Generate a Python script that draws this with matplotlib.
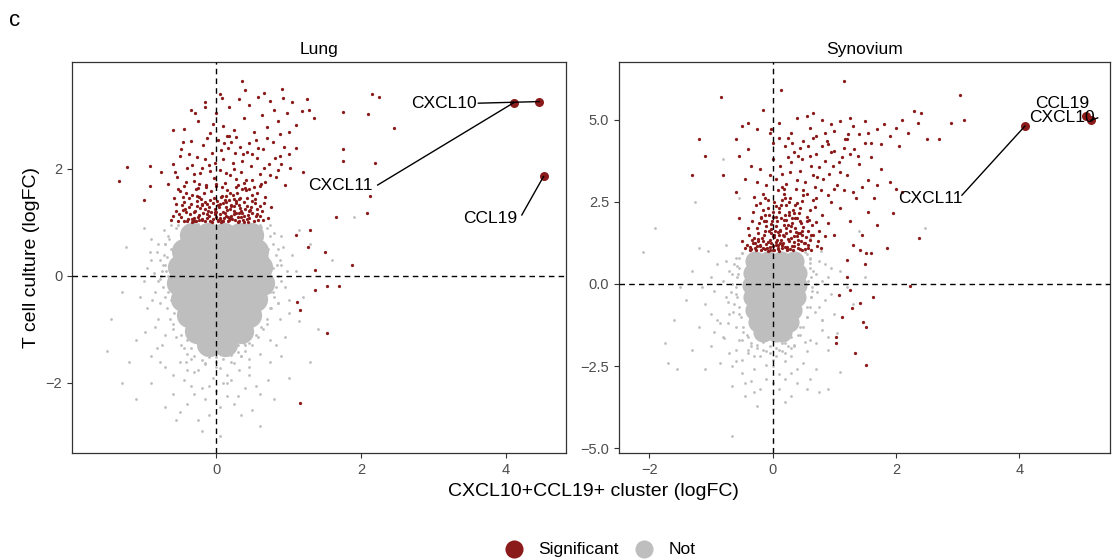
import matplotlib
matplotlib.use("Agg")
import matplotlib.pyplot as plt

plt.rcParams['font.family'] = ['Liberation Sans', 'DejaVu Sans']

RED = '#8B1A1A'
GREY = '#BEBEBE'

# ---------------- Lung ----------------
# centres of the solid part of the grey cloud
lung_core_x = [-0.33, -0.11, 0.11, 0.33, 0.48,
               -0.45, -0.23, -0.01, 0.21, 0.43, 0.55,
               -0.5, -0.28, -0.06, 0.16, 0.38, 0.6,
               -0.51, -0.29, -0.07, 0.15, 0.37, 0.59, 0.63,
               -0.46, -0.24, -0.02, 0.2, 0.42, 0.54,
               -0.38, -0.16, 0.06, 0.28, 0.45,
               -0.26, -0.04, 0.18, 0.34,
               -0.1, 0.12]
lung_core_y = [0.77] * 5 + [0.47] * 6 + [0.17] * 6 + [-0.13] * 7 + [-0.43] * 6 + \
              [-0.73] * 5 + [-1.03] * 4 + [-1.28] * 2

lung_grey_x = [-0.8, -0.9, -0.75, -1.0, -0.85, -0.95, -0.8, -1.1, -0.9, -1.3, -1.3, -1.1, -0.7, -0.75,
               -1.25, -0.78, -0.82, -1.45, -1.0, -0.72, -0.7, -0.9, -1.2, -1.5,
               -0.5, -0.3, 0.0, 0.2, 0.35, -0.2, 0.1, 0.4, -0.6, -0.4, 0.25, 0.5, -0.1, -0.2, 0.05, 0.6,
               -0.55, 0.15, -0.35, 0.45, -0.05, 0.3, -0.45, 0.55, 0.7, 0.6, 0.8, 1.0, 0.9,
               0.8, 0.85, 0.9, 0.95, 0.85, 1.0, 1.1, 0.75, 1.2, 1.3, 1.4, 1.6, 1.3, 0.75, 0.7, 0.78,
               1.15, 1.9, -0.65, -0.68, -0.62, 0.72, 0.74, 0.62, -0.6, -0.66, 0.35, -0.35, 0.0, 0.2,
               -0.15, 0.45, -0.48, 0.62, -0.7, 0.68, 0.5, -0.52, 0.1, -0.25, 0.3, -0.1,
               -0.64, 0.7, -0.7, 0.66, 0.58, -0.58, 0.4, -0.4, 0.52, -0.3,
               -0.9, -0.95, -0.88, -0.85, -1.05, -0.92, -0.82, -0.98, -0.86, -0.78, -0.6, -0.45, -0.3,
               -0.15, 0.0, 0.15, 0.3, 0.45, 0.6, 0.75, 0.95, 1.0, 0.92, 0.88, 1.05, 0.98, 0.9, 0.82,
               -0.5, -0.25, 0.05, 0.35, 0.55, -0.4, 0.2, -0.1, 0.45, -0.7, 0.72, 1.15]
lung_grey_y = [0.6, 0.3, 0.1, -0.1, -0.3, -0.6, -0.8, -1.2, -1.5, -0.3, -2.0, -2.3, -1.7, -1.3,
               0.55, -0.05, 0.45, -0.8, 0.9, 0.85, -1.1, -2.0, -1.6, -1.4,
               -1.6, -1.8, -1.7, -1.6, -1.5, -2.1, -2.0, -2.1, -2.2, -2.4, -2.4, -2.5, -2.6, -2.9, -3.0, -2.8,
               -2.7, -2.25, -2.05, -1.85, -1.45, -1.3, -1.35, -1.1, -0.9, -2.2, -2.3, -1.9, -1.5,
               0.8, 0.5, 0.2, -0.2, -0.5, -0.7, 0.1, -1.2, -0.4, 0.6, -1.0, 0.3, -1.6, 0.95, 0.35, -0.3,
               0.85, 1.1, 0.7, 0.35, -0.45, 0.15, -0.6, 0.92, -0.9, 0.0, -1.5, -1.55, -1.52, -1.42,
               -1.62, -1.25, -1.1, -0.95, 0.6, 0.45, 0.95, 0.95, 0.96, 0.97, 0.96, 0.97,
               -0.25, -0.3, 0.2, -0.05, -0.75, -0.7, -1.3, -1.2, 0.7, 0.92,
               0.7, 0.15, -0.45, -0.95, -0.4, 0.45, -1.35, -1.05, 0.05, -1.6, -1.85, -1.95, -2.2,
               -2.3, -2.15, -2.0, -2.25, -1.7, -1.45, -1.6, -1.15, -0.45, 0.55, -0.8, 0.4, 0.1, 0.75, -1.3,
               -2.55, -2.7, -2.45, -2.6, -2.05, -1.75, -1.95, -2.05, -1.55, -2.45, -1.95, -0.85]

# grey points hugging the edge of the solid part
lung_edge_x = [-0.62, -0.55, 0.6, 0.7, 0.75, -0.66, -0.7, 0.78,
               -0.72, -0.74, -0.76, -0.73, -0.71, -0.68, -0.64, -0.6, -0.55, -0.48, -0.78, -0.8, -0.77,
               -0.69, -0.66, -0.62,
               0.82, 0.84, 0.86, 0.83, 0.8, 0.76, 0.7, 0.64, 0.58, 0.5, 0.88, 0.9, 0.85, 0.79, 0.75, 0.72,
               -0.4, -0.3, -0.2, -0.1, 0.0, 0.1, 0.2, 0.3, 0.4, -0.35, 0.38, -0.15, 0.05, 0.25, -0.25,
               0.15, -0.05, 0.32, -0.42]
lung_edge_y = [0.95, 0.9, 0.95, 0.9, 0.75, 0.75, 0.6, 0.6,
               0.4, 0.2, 0.0, -0.2, -0.4, -0.6, -0.8, -1.0, -1.15, -1.3, 0.3, -0.1, -0.5,
               0.1, -0.3, 0.5,
               0.4, 0.2, 0.0, -0.2, -0.4, -0.6, -0.8, -1.0, -1.15, -1.3, 0.3, -0.1, -0.5, 0.15, -0.3, 0.5,
               -1.45, -1.5, -1.58, -1.52, -1.6, -1.55, -1.48, -1.42, -1.4, -1.35, -1.25, -1.65, -1.72,
               -1.62, -1.75, -1.85, -1.9, -1.75, -1.6]

lung_sig_x = [-0.62, -0.55, -0.48, -0.44, -0.40, -0.36, -0.33, -0.30, -0.27, -0.24, -0.21, -0.18, -0.15,
              -0.12, -0.10, -0.07, -0.05, -0.02, 0.01, 0.03, 0.06, 0.08, 0.11, 0.13, 0.16, 0.18, 0.21,
              0.24, 0.26, 0.29, 0.31, 0.34, 0.37, 0.40, 0.43, 0.46, 0.50, 0.54, 0.58, 0.63, 0.68, -0.58,
              -0.50, -0.28, -0.16, 0.00, 0.10, 0.20, 0.30, 0.44, -0.38, -0.08, 0.15, 0.36, 0.56, -0.20,
              0.05, 0.25, -0.45, 0.48,
              -0.6, -0.52, -0.47, -0.42, -0.37, -0.34, -0.29, -0.26, -0.23, -0.19, -0.17, -0.13, -0.11,
              -0.09, -0.04, -0.01, 0.02, 0.04, 0.07, 0.09, 0.12, 0.14, 0.17, 0.19, 0.22, 0.23, 0.27, 0.28,
              0.32, 0.33, 0.35, 0.38, 0.39, 0.42, 0.47, 0.49, 0.52, 0.57, 0.61, 0.66, 0.72, 0.76, -0.56,
              -0.41, -0.31, -0.14, 0.0, 0.13, 0.27, 0.41, 0.6, -0.24, 0.07, 0.32, -0.46, 0.19, 0.45,
              -0.02, 0.25, 0.53,
              -0.51, -0.43, -0.39, -0.35, -0.31, -0.28, -0.25, -0.22, -0.19, -0.16, -0.13, -0.1, -0.06,
              -0.03, 0.0, 0.02, 0.05, 0.08, 0.1, 0.13, 0.15, 0.18, 0.21, 0.24, 0.27, 0.3, 0.33, 0.36,
              0.39, 0.42, 0.45, 0.5, 0.55, 0.6, 0.65, -0.46, -0.33, -0.2, -0.07, 0.06, 0.19, 0.31, 0.44,
              0.57, -0.26, 0.12,
              -0.66, -0.60, -0.54, -0.48, -0.44, -0.40, -0.35, -0.31, -0.27, -0.22, -0.18, -0.14, -0.10,
              -0.06, -0.03, 0.02, 0.05, 0.09, 0.12, 0.16, 0.19, 0.23, 0.27, 0.30, 0.34, 0.37, 0.41, 0.45,
              0.48, 0.52, 0.56, 0.60, 0.64, 0.68, 0.73, 0.78, 0.83, 0.88, 0.95, 1.02, 1.10, -0.52, -0.25,
              0.08, 0.40, 0.70, -0.12, 0.24, -0.38, 0.55, 0.90, 1.20, -0.02, 0.18, 0.33,
              -0.57, -0.5, -0.42, -0.33, -0.24, -0.16, -0.08, 0.0, 0.07, 0.14, 0.21, 0.28, 0.36, 0.43,
              0.5, 0.58, 0.66, 0.74, 0.81, 0.93, -0.46, -0.2, 0.11, 0.39, 0.62, 0.85, 1.0, -0.3, 0.26, 0.5,
              -0.45, -0.35, -0.25, -0.15, -0.08, 0.00, 0.05, 0.10, 0.18, 0.25, 0.32, 0.38, 0.45, 0.52,
              0.58, 0.63, 0.70, 0.75, 0.80, 0.85, 0.92, 0.98, 1.05, 1.10, 1.18, 1.25, 1.35, 0.40, 0.15,
              -0.05, 0.66, 0.88, 1.00, 1.28,
              1.30, 1.50, 1.37, 1.37, 1.16, 1.53, 1.16, 1.70, 1.53, 1.88, 1.66, 2.08, 2.13, 2.20, 1.75,
              1.75, 2.45, 2.15, 2.25, 1.75, 2.10, 0.36, 0.91, 1.27, 1.10, 1.12, -1.23, -1.34, -0.92,
              -0.92, -1.00, -0.76, -0.59, -0.29, -0.16, 0.08]
lung_sig_y = [1.05, 1.22, 1.10, 1.38, 1.02, 1.16, 1.52, 1.08, 1.30, 1.04, 1.44, 1.18, 1.02,
              1.34, 1.12, 1.58, 1.06, 1.25, 1.40, 1.03, 1.15, 1.50, 1.08, 1.28, 1.02, 1.42, 1.13,
              1.22, 1.05, 1.55, 1.32, 1.10, 1.04, 1.26, 1.46, 1.08, 1.18, 1.36, 1.04, 1.22, 1.48, 1.45,
              1.58, 1.62, 1.26, 1.10, 1.20, 1.30, 1.00, 1.14, 1.28, 1.42, 1.60, 1.62, 1.56, 1.06,
              1.34, 1.44, 1.02, 1.28,
              1.12, 1.03, 1.32, 1.19, 1.45, 1.07, 1.22, 1.40, 1.14, 1.33, 1.55, 1.08, 1.21,
              1.03, 1.36, 1.15, 1.05, 1.29, 1.47, 1.02, 1.17, 1.38, 1.10, 1.25, 1.06, 1.52, 1.18, 1.36,
              1.02, 1.46, 1.21, 1.13, 1.39, 1.06, 1.23, 1.52, 1.03, 1.26, 1.12, 1.36, 1.08, 1.28, 1.35,
              1.55, 1.02, 1.66, 1.68, 1.50, 1.67, 1.60, 1.68, 1.48, 1.01, 1.17, 1.24, 1.09, 1.63,
              1.19, 1.31, 1.44,
              1.15, 1.25, 1.06, 1.34, 1.19, 1.02, 1.11, 1.27, 1.04, 1.38, 1.16, 1.29, 1.01,
              1.45, 1.2, 1.32, 1.09, 1.02, 1.37, 1.13, 1.24, 1.05, 1.33, 1.15, 1.41, 1.1, 1.27, 1.18,
              1.01, 1.3, 1.21, 1.4, 1.12, 1.3, 1.05, 1.48, 1.01, 1.35, 1.2, 1.06, 1.55, 1.44, 1.01,
              1.15, 1.5, 1.42,
              1.72, 2.10, 1.85, 2.38, 1.68, 2.02, 2.52, 1.78, 2.22, 1.92, 2.45, 1.70, 2.08,
              2.30, 1.84, 2.55, 1.98, 2.18, 1.74, 2.40, 1.88, 2.12, 2.60, 1.70, 1.95, 2.28, 1.80, 2.48,
              2.05, 1.66, 2.20, 1.90, 2.38, 1.76, 2.10, 2.50, 1.85, 2.25, 1.70, 2.02, 2.40, 1.62, 1.64,
              1.66, 1.64, 2.58, 2.58, 2.00, 2.28, 2.55, 2.10, 1.95, 2.12, 2.62, 2.42,
              1.95, 2.25, 1.76, 2.08, 1.72, 2.18, 1.96, 1.72, 2.35, 1.92, 2.5, 1.82, 2.15, 2.32,
              1.8, 2.4, 2.02, 1.88, 2.2, 2.42, 2.5, 2.02, 2.48, 1.74, 1.72, 1.98, 2.28, 1.9, 2.3, 2.28,
              2.75, 3.10, 2.90, 3.25, 2.68, 3.05, 3.40, 2.80, 3.15, 2.72, 3.30, 2.95, 3.20, 2.70,
              3.35, 3.00, 2.78, 3.28, 3.10, 2.90, 3.32, 3.05, 3.25, 2.82, 3.08, 3.30, 2.95, 3.48, 2.62,
              2.85, 3.42, 2.66, 2.70, 3.10,
              0.86, 0.45, 0.11, -0.26, -0.64, -1.07, -2.37, -0.19, -0.19, 0.20, 1.10, 1.17, 1.50, 2.11, 2.14,
              2.37, 2.77, 3.40, 3.35, 3.07, 3.03, 3.65, 3.50, 0.55, 0.77, -0.49, 2.04, 1.78, 2.06,
              1.68, 1.42, 1.94, 2.73, 3.05, 3.16, 3.33]

lung_genes = ['CXCL10', 'CXCL11', 'CCL19']
lung_gene_x = [4.46, 4.11, 4.52]
lung_gene_y = [3.26, 3.24, 1.86]
lung_label_x = [3.14, 1.72, 3.78]
lung_label_y = [3.23, 1.69, 1.07]
lung_leader_x = [3.62, 2.23, 4.22]
lung_leader_y = [3.23, 1.70, 1.14]

# ---------------- Synovium ----------------
syn_core_x = [-0.28, -0.07, 0.14, 0.35,
              -0.32, -0.11, 0.1, 0.31, 0.39,
              -0.33, -0.12, 0.09, 0.3, 0.4,
              -0.32, -0.11, 0.1, 0.31, 0.38,
              -0.28, -0.07, 0.14, 0.32,
              -0.24, -0.03, 0.18, 0.26,
              -0.15, 0.05, 0.15]
syn_core_y = [0.7] * 4 + [0.33] * 5 + [-0.04] * 5 + [-0.41] * 5 + [-0.78] * 4 + \
             [-1.15] * 4 + [-1.45] * 3

syn_grey_x = [-0.6, -0.7, -0.65, -0.75, -0.7, -0.6, -0.9, -1.0, -0.95, -1.1, -0.9, -0.8, -1.2, -1.3,
              -1.4, -1.2, -1.0, -1.5, -1.6, -1.7, -1.9, -2.1, -1.75, -1.3, -1.1, -0.85, -0.6, -0.55,
              -1.25, -0.75, -1.05, -0.72, -0.62, -0.58, -1.55,
              -0.4, -0.2, 0.0, 0.2, 0.35, -0.3, -0.1, 0.1, 0.3, 0.5, -0.45, 0.0, 0.2, 0.55, 0.75,
              -0.3, -0.65, 0.0, 0.4, -0.66, 0.9, 0.7, 0.9, -0.5, 0.15, -0.15, 0.3, 0.45, 0.55, -0.48,
              0.6, 0.8,
              0.6, 0.65, 0.7, 0.62, 0.75, 0.85, 0.9, 0.95, 1.0, 1.1, 1.2, 1.3, 0.8, 1.05, 1.1, 1.5, 0.78,
              -0.55, -0.8, 0.6, 1.4, 2.47, -0.56, 0.58, -0.54, 0.56, -0.5, 0.52, -0.35, 0.3, -0.1, 0.1,
              -0.25, 0.2, -0.4, 0.42, 0.05, -0.05, -0.6, 0.64, -0.62, 0.6,
              -0.75, -0.8, -0.72, -0.85, -0.78, -0.7, -0.65, -0.5, -0.35, -0.2, 0.0, 0.2, 0.4, 0.55,
              0.7, 0.8, 0.85, 0.8, 0.75, 0.9, -1.0, -1.15, -0.95, -0.45, 0.3, -0.25, 0.1, 0.6, -0.6, 0.95]
syn_grey_y = [0.8, 0.4, 0.0, -0.4, -0.9, -1.3, 0.6, 0.2, -0.2, -0.6, -1.1, -1.6, 1.1, 0.4,
              -0.5, -1.3, -1.9, -0.1, -1.1, -2.4, 1.7, 0.97, -1.8, -2.0, -2.6, -2.4, -2.0, -1.7,
              2.5, 1.2, 1.0, -1.2, -0.6, 0.55, -2.6,
              -2.0, -2.2, -2.5, -2.1, -1.9, -2.6, -2.9, -3.2, -2.7, -2.4, -3.0, -3.5, -3.6, -3.2, -3.3,
              -3.3, -3.1, -3.8, -3.0, -4.62, -3.2, -2.6, -2.0, -2.3, -1.8, -1.75, -1.6, -1.3, -1.0, -1.45,
              -1.7, -1.4,
              0.8, 0.4, 0.0, -0.4, -0.7, 0.6, 0.2, -0.3, -0.9, 0.4, -0.1, -0.6, -1.1, -1.5, -2.67, 0.2, 1.0,
              2.6, 3.8, 1.4, 1.6, 1.7, 0.3, 0.1, -0.9, -0.7, 0.95, 0.97, -1.9, -1.95, -2.05, -2.0,
              -1.85, -1.8, -1.6, -1.55, -2.2, -1.9, -0.3, -0.2, 0.6, 0.65,
              0.7, 0.1, -0.55, -1.2, -1.65, -2.1, -2.5, -2.7, -2.95, -3.2, -3.0, -2.9, -2.6, -2.05,
              -1.8, -1.1, -0.5, 0.1, 0.7, -1.6, -0.9, -0.1, -1.45, -3.4, -3.4, -3.7, -2.75, -2.9, -2.35, 0.5]

syn_edge_x = [-0.5, 0.55, -0.55, 0.6,
              -0.55, -0.58, -0.6, -0.58, -0.55, -0.52, -0.48, -0.42, -0.66, -0.68, -0.64, -0.5,
              0.6, 0.62, 0.64, 0.62, 0.6, 0.56, 0.5, 0.44, 0.7, 0.72, 0.68, 0.52,
              -0.35, -0.25, -0.15, -0.05, 0.05, 0.15, 0.25, 0.35, -0.3, 0.0, 0.2, -0.1, 0.3, -0.4]
syn_edge_y = [0.95, 0.9, 0.8, 0.75,
              0.5, 0.2, -0.1, -0.4, -0.7, -1.0, -1.3, -1.55, 0.3, -0.25, -0.85, -1.7,
              0.5, 0.2, -0.1, -0.4, -0.7, -1.0, -1.3, -1.55, 0.3, -0.25, -0.85, -1.75,
              -1.8, -1.95, -2.0, -2.1, -1.95, -2.05, -1.9, -1.85, -2.2, -2.3, -2.35, -2.45, -2.2, -2.1]

syn_sig_x = [-0.35, -0.30, -0.26, -0.22, -0.18, -0.15, -0.12, -0.09, -0.06, -0.03, 0.00, 0.03, 0.05,
             0.08, 0.10, 0.13, 0.16, 0.18, 0.21, 0.24, 0.27, 0.30, 0.33, 0.36, 0.39, 0.42, 0.45, 0.48,
             0.52, 0.56, 0.60, 0.64, 0.68, 0.72, 0.76, 0.80, -0.40, -0.32, -0.20, -0.10, 0.02, 0.12,
             0.22, 0.32, 0.44, 0.58, -0.28, -0.05, 0.15, 0.25, 0.35, 0.47, -0.45, -0.38, 0.06, 0.28,
             0.50, 0.66, -0.15, 0.18, -0.02, 0.10, 0.40, 0.62, 0.85, 0.90, -0.50, -0.55,
             -0.42, -0.37, -0.33, -0.29, -0.24, -0.21, -0.17, -0.13, -0.11, -0.07, -0.04, -0.01, 0.01,
             0.04, 0.07, 0.09, 0.11, 0.14, 0.17, 0.2, 0.22, 0.25, 0.29, 0.31, 0.34, 0.38, 0.41, 0.43,
             0.46, 0.5, 0.54, 0.57, 0.61, 0.66, 0.7, 0.74, 0.78, -0.27, -0.19, -0.08, 0.0, 0.06, 0.16,
             0.26, 0.36, 0.48, 0.59, -0.34, -0.14, 0.03, 0.19, 0.33, 0.53, 0.71, -0.23, 0.12, 0.39,
             -0.06, 0.23, 0.45,
             -0.36, -0.31, -0.27, -0.23, -0.2, -0.16, -0.14, -0.1, -0.08, -0.05, -0.02, 0.0, 0.02, 0.05,
             0.07, 0.09, 0.12, 0.15, 0.17, 0.19, 0.23, 0.26, 0.28, 0.32, 0.35, 0.37, 0.41, 0.44, 0.47,
             0.51, 0.55, 0.58, 0.63, -0.25, -0.12, 0.0, 0.11, 0.22, 0.34, 0.46, -0.18, -0.03, 0.08,
             0.2, 0.3, 0.42, -0.08, 0.14, 0.27, 0.05,
             -0.60, -0.45, -0.30, -0.20, -0.10, 0.00, 0.08, 0.15, 0.22, 0.30, 0.38, 0.45, 0.52, 0.60,
             0.68, 0.75, 0.82, 0.90, 0.98, 1.05, 1.12, 1.20, 1.30, 1.40, 1.55, 1.65, 1.75, 0.35, -0.05,
             0.55, 0.70, 0.92, 1.00, -0.35, -0.80, 1.25, 1.45, 0.20, -0.15, 0.48, 0.85, 1.60, 0.12,
             -0.55, 0.65,
             -0.25, -0.12, 0.05, 0.18, 0.28, 0.4, 0.5, 0.62, 0.72, 0.8, 0.95, 1.08, 1.18, 1.32, 1.5,
             0.1, 0.32, 0.58, 0.88, 1.22, -0.4, -0.02, 0.42, 0.78, 1.1, 1.38, 0.25, 0.66, 1.0, 0.15,
             -0.60, -0.50, -0.40, -0.25, -0.15, 0.00, 0.10, 0.20, 0.30, 0.40, 0.50, 0.60, 0.70, 0.80,
             0.90, 1.00, 1.10, 1.20, 1.30, 1.40, 1.50, 1.60, 1.70, 1.80, 1.90, 2.00, 2.10, 2.20, 2.35,
             2.50, 0.65, 0.95, 1.25, 1.55, 0.25, -0.05, 0.45, 0.85, 1.15, 1.75, 2.05, 2.30, 0.55,
             -1.20, -1.10, -1.30, -0.84, 1.15, 0.13, 3.04, 2.90, 3.10, 2.40, 2.70, 1.70, 2.00, 1.96,
             2.38, 1.20, 1.20, 1.42, 1.52, 1.60, 1.50, 2.23, 1.07, 1.28, 1.41, 1.46, 1.52, 1.02, 1.02,
             1.33, 1.52, 1.13, 1.25, 1.62, 1.35, 1.55, 1.70, 1.25, 1.45, 1.85, 1.10, 1.00, 1.30, 1.90,
             2.10, 0.95, 1.15]
syn_sig_y = [1.05, 1.40, 1.15, 1.85, 1.02, 1.30, 1.60, 1.10, 2.10, 1.25, 1.45, 1.04, 1.75,
             1.18, 2.30, 1.35, 1.08, 1.95, 1.55, 1.12, 2.20, 1.40, 1.03, 1.70, 2.45, 1.22, 1.90, 1.50,
             1.06, 2.05, 1.35, 1.80, 2.35, 1.15, 1.60, 2.10, 1.70, 2.20, 2.45, 1.90, 2.50, 1.65,
             2.40, 2.00, 2.30, 1.60, 1.25, 1.02, 1.20, 1.80, 1.15, 1.02, 1.10, 1.50, 2.05, 2.60,
             2.70, 2.55, 2.25, 2.75, 1.55, 1.00, 1.45, 1.02, 1.45, 1.85, 1.30, 2.00,
             1.2, 1.02, 1.33, 1.08, 1.55, 1.18, 1.4, 1.05, 1.75, 1.28, 1.12, 1.9, 1.02,
             1.6, 1.35, 1.08, 1.5, 2.0, 1.25, 1.12, 1.7, 1.38, 1.05, 1.85, 1.28, 1.58, 1.1, 2.15,
             1.3, 1.72, 1.42, 1.18, 2.25, 1.5, 1.88, 1.32, 1.1, 2.4, 2.05, 2.55, 2.2, 2.38, 2.55,
             2.1, 2.4, 2.52, 1.95, 1.9, 1.9, 1.5, 1.45, 2.25, 1.25, 2.6, 1.3, 1.25, 2.0,
             1.6, 1.05, 1.55,
             1.12, 1.25, 1.04, 1.38, 1.15, 1.08, 1.5, 1.22, 1.01, 1.35, 1.68, 1.15, 1.42, 1.28,
             1.9, 1.05, 1.62, 1.18, 1.48, 1.8, 1.02, 1.3, 1.6, 1.15, 1.45, 2.0, 1.35, 1.05, 1.62,
             1.25, 1.9, 1.08, 1.48, 1.7, 2.1, 2.05, 2.2, 1.95, 2.15, 1.85, 2.0, 1.82, 1.58,
             2.1, 1.75, 1.55, 2.3, 2.4, 2.5, 1.2,
             2.80, 3.20, 2.65, 3.50, 3.00, 3.80, 2.85, 3.35, 3.05, 3.70, 2.90, 3.45, 3.10, 3.90,
             2.95, 3.55, 3.20, 2.70, 3.60, 3.00, 3.85, 3.30, 2.80, 3.65, 3.15, 2.60, 3.50, 4.00, 3.30,
             2.75, 3.95, 3.35, 2.90, 3.60, 3.30, 3.95, 2.95, 2.60, 2.75, 3.80, 3.75, 3.85, 3.60,
             3.90, 3.30,
             3.1, 2.6, 3.2, 2.9, 3.4, 3.15, 2.85, 3.6, 3.25, 4.2, 4.0, 3.7, 4.4, 4.1, 4.3,
             4.45, 4.3, 4.2, 4.35, 4.55, 4.9, 4.7, 3.9, 2.85, 3.4, 3.9, 3.85, 4.45, 4.05, 2.95,
             4.40, 4.80, 4.10, 4.70, 5.30, 4.30, 4.90, 4.20, 4.60, 5.05, 4.35, 4.75, 4.50, 5.00,
             4.25, 4.65, 4.95, 4.40, 4.80, 4.55, 4.95, 4.30, 4.70, 4.85, 4.50, 4.75, 5.00, 4.60, 4.90,
             4.40, 5.20, 4.85, 5.05, 4.60, 4.45, 4.60, 4.15, 4.60, 4.15, 4.25, 4.20, 5.25, 5.10,
             4.40, 3.90, 3.30, 5.70, 6.17, 5.90, 5.74, 4.90, 5.00, 5.20, 4.40, 3.00, 2.90, 2.16,
             1.40, 0.73, 0.21, 1.03, 0.94, 0.94, 0.60, -0.06, -0.33, -0.73, -0.58, -1.15, -1.30, -1.60, -1.80,
             -2.10, -2.46, -1.00, -0.18, -0.40, 2.60, 2.20, 1.80, 1.90, 1.50, 1.10, 2.30, 1.50, 1.20, 3.10,
             2.80, 2.50, 2.85]

syn_genes = ['CCL19', 'CXCL10', 'CXCL11']
syn_gene_x = [5.08, 5.16, 4.09]
syn_gene_y = [5.11, 4.98, 4.80]
syn_label_x = [4.69, 4.69, 2.56]
syn_label_y = [5.50, 5.05, 2.61]
syn_leader_x = [None, 5.27, 3.07]
syn_leader_y = [None, 5.05, 2.70]


def draw_panel(ax, core_x, core_y, core_s, grey_x, grey_y, sig_x, sig_y,
               genes, gx, gy, lx, ly, leader_x, leader_y,
               xlim, ylim, xticks, yticks, yfmt, title):
    ax.scatter(core_x, core_y, s=core_s, color=GREY, linewidths=0, zorder=1)
    ax.scatter(grey_x, grey_y, s=4, color=GREY, linewidths=0, zorder=1)
    ax.scatter(sig_x, sig_y, s=5.5, color=RED, linewidths=0, zorder=2)
    ax.axvline(0, color='black', lw=1.0, ls=(0, (4, 3)), zorder=3)
    ax.axhline(0, color='black', lw=1.0, ls=(0, (4, 3)), zorder=3)
    ax.scatter(gx, gy, s=42, color=RED, linewidths=0, zorder=4)
    for i, g in enumerate(genes):
        ax.text(lx[i], ly[i], g, fontsize=12.5, ha='center', va='center', zorder=5)
        if leader_x[i] is not None:
            ax.plot([leader_x[i], gx[i]], [leader_y[i], gy[i]], color='black', lw=1.0, zorder=5)
    ax.set_xlim(xlim)
    ax.set_ylim(ylim)
    ax.set_xticks(xticks)
    ax.set_yticks(yticks)
    ax.set_xticklabels([str(t).replace('-', '\u2212') for t in xticks])
    ax.set_yticklabels([yfmt.format(t).replace('-', '\u2212') for t in yticks])
    ax.tick_params(length=3.5, width=0.8, colors='#333333', labelsize=10.5, labelcolor='#4D4D4D')
    for sp in ax.spines.values():
        sp.set_linewidth(0.9)
        sp.set_color('#333333')
    ax.set_title(title, fontsize=12.5, pad=6)


fig = plt.figure(figsize=(11.14, 5.6), dpi=100)
ax1 = fig.add_axes([72 / 1114, 107 / 560, 494 / 1114, 391 / 560])
ax2 = fig.add_axes([619 / 1114, 107 / 560, 491 / 1114, 391 / 560])

draw_panel(ax1, lung_core_x, lung_core_y, 330,
           lung_grey_x + lung_edge_x, lung_grey_y + lung_edge_y, lung_sig_x, lung_sig_y,
           lung_genes, lung_gene_x, lung_gene_y, lung_label_x, lung_label_y,
           lung_leader_x, lung_leader_y,
           (-1.99, 4.83), (-3.31, 4.0), [0, 2, 4], [-2, 0, 2], '{:d}', 'Lung')
draw_panel(ax2, syn_core_x, syn_core_y, 210,
           syn_grey_x + syn_edge_x, syn_grey_y + syn_edge_y, syn_sig_x, syn_sig_y,
           syn_genes, syn_gene_x, syn_gene_y, syn_label_x, syn_label_y,
           syn_leader_x, syn_leader_y,
           (-2.49, 5.47), (-5.14, 6.75), [-2, 0, 2, 4], [-5.0, -2.5, 0.0, 2.5, 5.0], '{:.1f}', 'Synovium')

ax1.set_ylabel('T cell culture (logFC)', fontsize=14, labelpad=4)
fig.text(593 / 1114, 1 - 492 / 560, 'CXCL10+CCL19+ cluster (logFC)', fontsize=14, ha='center', va='center')
fig.text(9 / 1114, 1 - 20 / 560, 'c', fontsize=16, ha='left', va='center')

h1 = ax1.scatter([], [], s=170, color=RED, linewidths=0)
h2 = ax1.scatter([], [], s=170, color=GREY, linewidths=0)
fig.legend([h1, h2], ['Significant', 'Not'], loc='center', bbox_to_anchor=(596 / 1114, 1 - 549 / 560),
           ncol=2, frameon=False, fontsize=12.5, handletextpad=0.4, columnspacing=0.5, borderpad=0)

fig.savefig('out.png', dpi=100)
